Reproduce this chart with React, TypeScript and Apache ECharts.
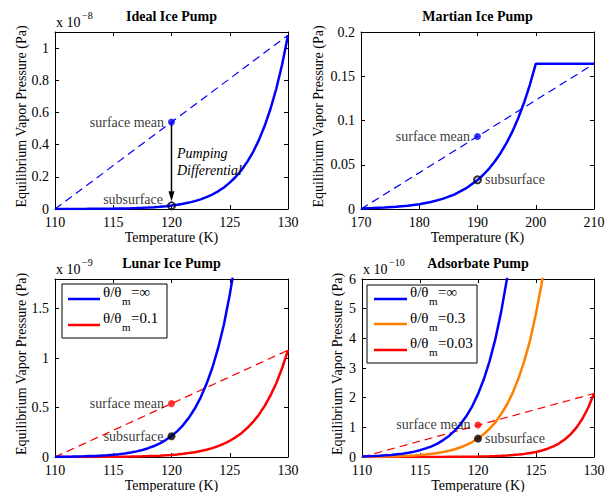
import { useEffect, useRef } from 'react';
import * as echarts from 'echarts';

const FONT = 'Liberation Serif';
const BLUE = '#0000ff';
const RED = '#ff0000';
const ORANGE = '#ff8000';

// Temperatures (K) used for the 110–130 K panels
const tempsFine = [110, 110.5, 111, 111.5, 112, 112.5, 113, 113.5, 114, 114.5, 115, 115.5, 116, 116.5, 117, 117.5, 118, 118.5, 119, 119.5, 120, 120.5, 121, 121.5, 122, 122.5, 123, 123.5, 124, 124.5, 125, 125.5, 126, 126.5, 127, 127.5, 128, 128.5, 129, 129.5, 130];

// Ideal Ice Pump (x 1e-8 Pa)
const idealIce = [0.0002, 0.00025, 0.0003, 0.0004, 0.00055, 0.0007, 0.0009, 0.0011, 0.0014, 0.0018, 0.0023, 0.0029, 0.0036, 0.0045, 0.0057, 0.0071, 0.0089, 0.0111, 0.0138, 0.0171, 0.0212, 0.0262, 0.0323, 0.0398, 0.049, 0.0601, 0.0737, 0.09, 0.11, 0.134, 0.164, 0.199, 0.241, 0.293, 0.354, 0.428, 0.517, 0.623, 0.749, 0.9, 1.08];
const idealDashT = [110, 130];
const idealDashP = [0, 1.08];
const idealSurfaceMean = [120, 0.54];
const idealSubsurface = [120, 0.02];

// Martian Ice Pump (Pa)
const marsTemps = [170, 172, 174, 176, 178, 180, 182, 184, 186, 188, 190, 191, 192, 193, 194, 195, 196, 197, 198, 199, 200, 210];
const marsP = [0.0007, 0.0011, 0.0017, 0.0025, 0.0037, 0.0054, 0.0079, 0.0114, 0.0163, 0.0232, 0.0327, 0.0387, 0.0457, 0.0539, 0.0636, 0.0747, 0.0877, 0.1028, 0.1203, 0.1406, 0.164, 0.164];
const marsDashT = [170, 210];
const marsDashP = [0, 0.164];
const marsSurfaceMean = [190, 0.082];
const marsSubsurface = [190, 0.033];

// Lunar Ice Pump (x 1e-9 Pa)
const lunarPure = [0.002, 0.0025, 0.003, 0.004, 0.0055, 0.007, 0.009, 0.011, 0.014, 0.018, 0.023, 0.029, 0.036, 0.045, 0.057, 0.071, 0.089, 0.111, 0.138, 0.171, 0.212, 0.262, 0.323, 0.398, 0.49, 0.601, 0.737, 0.9, 1.1, 1.34, 1.64, 1.99, 2.41];
const lunarAdsorbed = [0.0002, 0.00025, 0.0003, 0.0004, 0.00055, 0.0007, 0.0009, 0.0011, 0.0014, 0.0018, 0.0023, 0.0029, 0.0036, 0.0045, 0.0057, 0.0071, 0.0089, 0.0111, 0.0138, 0.0171, 0.0212, 0.0262, 0.0323, 0.0398, 0.049, 0.0601, 0.0737, 0.09, 0.11, 0.134, 0.164, 0.199, 0.241, 0.293, 0.354, 0.428, 0.517, 0.623, 0.749, 0.9, 1.08];
const lunarDashT = [110, 130];
const lunarDashP = [0, 1.08];
const lunarSurfaceMean = [120, 0.54];
const lunarSubsurface = [120, 0.21];

// Adsorbate Pump (x 1e-10 Pa)
const adsorbPure = [0.02, 0.025, 0.03, 0.04, 0.055, 0.07, 0.09, 0.11, 0.14, 0.18, 0.23, 0.29, 0.36, 0.45, 0.57, 0.71, 0.89, 1.11, 1.38, 1.71, 2.12, 2.62, 3.23, 3.98, 4.9, 6.01, 7.37];
const adsorbMid = [0.006, 0.0074, 0.009, 0.012, 0.016, 0.021, 0.027, 0.032, 0.041, 0.053, 0.068, 0.086, 0.106, 0.133, 0.168, 0.209, 0.263, 0.327, 0.407, 0.504, 0.625, 0.773, 0.953, 1.17, 1.45, 1.77, 2.17, 2.66, 3.25, 3.95, 4.84, 5.87, 7.11];
const adsorbLow = [0.0001, 0.00013, 0.00017, 0.00023, 0.0003, 0.0004, 0.0005, 0.00065, 0.0008, 0.0011, 0.0014, 0.0018, 0.0023, 0.003, 0.0038, 0.0046, 0.0058, 0.0073, 0.0092, 0.0117, 0.015, 0.019, 0.024, 0.031, 0.039, 0.05, 0.064, 0.082, 0.105, 0.134, 0.17, 0.22, 0.28, 0.36, 0.46, 0.6, 0.77, 1.0, 1.29, 1.66, 2.14];
const adsorbDashT = [110, 130];
const adsorbDashP = [0, 2.14];
const adsorbSurfaceMean = [120, 1.08];
const adsorbSubsurface = [120, 0.62];

const panelTitles = ['Ideal Ice Pump', 'Martian Ice Pump', 'Lunar Ice Pump', 'Adsorbate Pump'];
const exponents = ['\u22128', '', '\u22129', '\u221210'];
const lunarLegend = ['=\u221e', '=0.1'];
const adsorbLegend = ['=\u221e', '=0.3', '=0.03'];

const grids = [
  { left: 55, top: 32, width: 233, height: 177 },
  { left: 361, top: 32, width: 233, height: 177 },
  { left: 55, top: 279, width: 233, height: 178 },
  { left: 362, top: 279, width: 232, height: 178 },
];
const xRanges = [[110, 130, 5], [170, 210, 10], [110, 130, 5], [110, 130, 5]];
const yRanges = [[0, 1.1, 0.2], [0, 0.2, 0.05], [0, 1.8, 0.5], [0, 6, 1]];

const zip = (xs: number[], ys: number[]) => ys.map((y, i) => [xs[i], y]);
const fmt = (v: number) => String(parseFloat(v.toFixed(6)));

function axis(dim: 'x' | 'y', idx: number, mirror: boolean) {
  const r = dim === 'x' ? xRanges[idx] : yRanges[idx];
  return {
    type: 'value',
    gridIndex: idx,
    min: r[0],
    max: r[1],
    interval: r[2],
    position: dim === 'x' ? (mirror ? 'top' : 'bottom') : mirror ? 'right' : 'left',
    axisLine: { show: true, onZero: false, lineStyle: { color: '#000', width: 1 } },
    axisTick: { show: true, inside: true, length: 4, lineStyle: { color: '#000', width: 1 } },
    axisLabel: {
      show: !mirror,
      color: '#000',
      fontFamily: FONT,
      fontSize: 14,
      margin: 6,
      showMaxLabel: dim === 'x' ? true : (r[1] / r[2]) % 1 === 0 ? true : false,
      formatter: (v: number) => fmt(v),
    },
    splitLine: { show: false },
  };
}

function lineSeries(idx: number, data: number[][], color: string, dashed = false) {
  return {
    type: 'line',
    xAxisIndex: idx,
    yAxisIndex: idx,
    data,
    symbol: 'none',
    clip: true,
    silent: true,
    lineStyle: { color, width: dashed ? 1.2 : 2.5, type: dashed ? [8, 5] : 'solid' },
    z: dashed ? 2 : 3,
  };
}

function pointSeries(idx: number, pt: number[], color: string, label: string, pos: string, opts: any = {}) {
  return {
    type: 'scatter',
    xAxisIndex: idx,
    yAxisIndex: idx,
    data: [pt],
    symbol: 'circle',
    symbolSize: opts.size ?? 7,
    itemStyle: opts.ring
      ? { color: 'rgba(0,0,0,0)', borderColor: '#000', borderWidth: 2 }
      : { color },
    label: {
      show: true,
      position: pos,
      distance: opts.distance ?? 4,
      offset: opts.offset ?? [0, 0],
      formatter: label,
      color: '#000',
      fontFamily: FONT,
      fontSize: 14,
    },
    z: 5,
  };
}

function txt(x: number, y: number, text: string, extra: any = {}, rotation = 0) {
  return {
    type: 'text',
    x,
    y,
    rotation,
    z: 101,
    style: {
      text,
      fill: '#000',
      fontFamily: FONT,
      fontSize: 14,
      align: 'center',
      verticalAlign: 'middle',
      ...extra,
    },
  };
}

function legend(box: number[], lineX: number[], rowsLine: number[], rowsText: number[], colors: string[], labels: string[]) {
  const els: any[] = [
    {
      type: 'rect',
      z: 100,
      shape: { x: box[0], y: box[1], width: box[2] - box[0], height: box[3] - box[1] },
      style: { fill: '#fff', stroke: '#000', lineWidth: 1 },
    },
  ];
  labels.forEach((lab, i) => {
    els.push({
      type: 'line',
      z: 101,
      shape: { x1: lineX[0], y1: rowsLine[i], x2: lineX[1], y2: rowsLine[i] },
      style: { stroke: colors[i], lineWidth: 2.5 },
    });
    const tx = lineX[1] + 3;
    els.push(txt(tx, rowsText[i], '\u03b8/\u03b8', { align: 'left', fontSize: 15 }));
    els.push(txt(tx + 19, rowsText[i] + 9, 'm', { align: 'left', fontSize: 11 }));
    els.push(txt(tx + 28, rowsText[i], lab, { align: 'left', fontSize: 15 }));
  });
  return els;
}

export default function App() {
  const ref = useRef<HTMLDivElement>(null);
  useEffect(() => {
    if (!ref.current) return;
    const chart = echarts.init(ref.current, undefined, { renderer: 'svg' });

    const xAxes = [0, 1, 2, 3].map((i) => axis('x', i, false)).concat([0, 1, 2, 3].map((i) => axis('x', i, true)));
    const yAxes = [0, 1, 2, 3].map((i) => axis('y', i, false)).concat([0, 1, 2, 3].map((i) => axis('y', i, true)));

    const series: any[] = [
      // Panel 1
      lineSeries(0, zip(idealDashT, idealDashP), BLUE, true),
      lineSeries(0, zip(tempsFine, idealIce), BLUE),
      {
        type: 'line',
        xAxisIndex: 0,
        yAxisIndex: 0,
        symbol: 'none',
        showSymbol: true,
        silent: true,
        lineStyle: { color: '#000', width: 1.5 },
        itemStyle: { color: '#000' },
        data: [
          { value: idealSurfaceMean, symbol: 'none' },
          { value: [120, 0.08], symbol: 'triangle', symbolSize: [6, 10], symbolRotate: 180 },
        ],
        z: 4,
      },
      pointSeries(0, idealSurfaceMean, BLUE, 'surface mean', 'left'),
      pointSeries(0, idealSubsurface, '#000', 'subsurface', 'left', { ring: true, offset: [0, -6], distance: 4 }),
      // Panel 2
      lineSeries(1, zip(marsDashT, marsDashP), BLUE, true),
      lineSeries(1, zip(marsTemps, marsP), BLUE),
      pointSeries(1, marsSurfaceMean, BLUE, 'surface mean', 'left'),
      pointSeries(1, marsSubsurface, '#000', 'subsurface', 'right', { ring: true, distance: 3 }),
      // Panel 3
      lineSeries(2, zip(lunarDashT, lunarDashP), RED, true),
      lineSeries(2, zip(tempsFine, lunarAdsorbed), RED),
      lineSeries(2, zip(tempsFine, lunarPure), BLUE),
      pointSeries(2, lunarSurfaceMean, RED, 'surface mean', 'left'),
      pointSeries(2, lunarSubsurface, '#000', 'subsurface', 'left', { size: 8 }),
      // Panel 4
      lineSeries(3, zip(adsorbDashT, adsorbDashP), RED, true),
      lineSeries(3, zip(tempsFine, adsorbLow), RED),
      lineSeries(3, zip(tempsFine, adsorbMid), ORANGE),
      lineSeries(3, zip(tempsFine, adsorbPure), BLUE),
      pointSeries(3, adsorbSurfaceMean, RED, 'surface mean', 'left'),
      pointSeries(3, adsorbSubsurface, '#000', 'subsurface', 'right', { size: 8, distance: 3 }),
    ];

    const graphics: any[] = [];
    grids.forEach((g, i) => {
      const cx = g.left + g.width / 2;
      const cy = g.top + g.height / 2;
      graphics.push(txt(cx, g.top - 16, panelTitles[i], { fontWeight: 'bold' }));
      graphics.push(txt(cx, g.top + g.height + 28, 'Temperature (K)'));
      const yNameX = i === 0 || i === 2 ? 21 : i === 1 ? 318 : 337;
      graphics.push(txt(yNameX, cy - 4, 'Equilibrium Vapor Pressure (Pa)', {}, Math.PI / 2));
      if (exponents[i]) {
        graphics.push(txt(g.left + 1, g.top - 10, 'x 10', { align: 'left' }));
        graphics.push(txt(g.left + 27, g.top - 17, exponents[i], { align: 'left', fontSize: 10 }));
      }
    });
    graphics.push(txt(177, 153, 'Pumping', { align: 'left', fontStyle: 'italic' }));
    graphics.push(txt(177, 170, 'Differential', { align: 'left', fontStyle: 'italic' }));
    graphics.push(...legend([62, 284, 167, 338], [68, 100], [299, 325], [292, 318], [BLUE, RED], lunarLegend));
    graphics.push(...legend([367, 285, 477, 363], [374, 407], [299, 324, 350], [292, 318, 343], [BLUE, ORANGE, RED], adsorbLegend));

    chart.setOption({
      animation: false,
      backgroundColor: '#fff',
      grid: grids,
      xAxis: xAxes,
      yAxis: yAxes,
      series,
      graphic: graphics,
    });
    return () => chart.dispose();
  }, []);
  return <div ref={ref} style={{ position: 'absolute', left: 0, top: 0, width: 611, height: 492 }} />;
}
